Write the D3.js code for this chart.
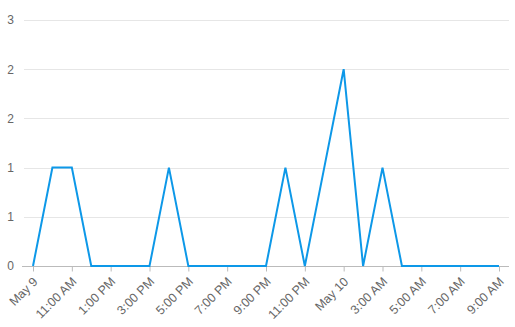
<!DOCTYPE html>
<html>
<head>
<meta charset="utf-8">
<script src="https://cdn.jsdelivr.net/npm/d3@7"></script>
<style>
  body { margin: 0; background: #fff; }
  svg { display: block; font-family: "Liberation Sans", Arial, sans-serif; }
  .grid line { stroke: #e6e6e6; }
  .tick text { fill: #666; font-size: 12px; }
  .x-os .tick text { font-size: 12.5px; }
</style>
</head>
<body>
<div id="okvir"></div>
<script>
// hourly counts, from 9:00 AM May 9 to 9:00 AM May 10
const pocetak = new Date(2023, 4, 9, 9)
const kraj = new Date(2023, 4, 10, 9)
const vrijednosti = [0, 1, 1, 0, 0, 0, 0, 1, 0, 0, 0, 0, 0, 1, 0, 1, 2, 0, 1, 0, 0, 0, 0, 0, 0]
const yTicks = [0, 0.5, 1, 1.5, 2, 2.5]

const sati = d3.timeHour.range(pocetak, d3.timeHour.offset(kraj, 1))
const dataset = sati.map((t, i) => ({ t, v: vrijednosti[i] }))

const dim = { sirina: 515, visina: 327 }
const plot = { left: 24, right: 509, top: 20, bottom: 266 }

const x = d3.scaleTime()
  .domain([pocetak, kraj])
  .range([33, 499])

const y = d3.scaleLinear()
  .domain([0, 2.5])
  .range([plot.bottom, plot.top])

const svg = d3.select("#okvir")
  .append("svg")
  .attr("width", dim.sirina)
  .attr("height", dim.visina)

// grid
svg.append("g")
  .attr("class", "grid")
  .selectAll("line")
  .data(yTicks.filter(d => d > 0))
  .enter().append("line")
    .attr("x1", plot.left)
    .attr("x2", plot.right)
    .attr("y1", d => Math.round(y(d)) + 0.5)
    .attr("y2", d => Math.round(y(d)) + 0.5)

// y axis (labels only)
const yAxis = d3.axisLeft(y)
  .tickValues(yTicks)
  .tickSize(0)
  .tickPadding(10)
  .tickFormat(d => Math.round(d))

const yG = svg.append("g")
  .attr("transform", `translate(${plot.left},0)`)
  .call(yAxis)
yG.select(".domain").remove()

// x axis - every 2 hours starting at 9 AM
const xTicks = sati.filter((d, i) => i % 2 === 0)
const fmtDan = d3.timeFormat("%b %-d")
const fmtSat = d3.timeFormat("%-I:%M %p")
const xAxis = d3.axisBottom(x)
  .tickValues(xTicks)
  .tickSize(5)
  .tickSizeOuter(0)
  .tickFormat((d, i) => (i === 0 || d.getHours() < 2) ? fmtDan(d) : fmtSat(d))

const xG = svg.append("g")
  .attr("class", "x-os")
  .attr("transform", `translate(0,${plot.bottom + 0.5})`)
  .call(xAxis)

xG.select(".domain").remove()
xG.append("line")
  .attr("x1", plot.left - 2)
  .attr("x2", plot.right)
  .attr("stroke", "#bbb")
xG.selectAll(".tick line").attr("stroke", "#bbb")
xG.selectAll(".tick text")
  .attr("text-anchor", "end")
  .attr("y", 0)
  .attr("dy", 0)
  .attr("transform", "translate(5,16) rotate(-45)")

// line
const linija = d3.line()
  .x(d => x(d.t))
  .y(d => y(d.v))

svg.append("path")
  .datum(dataset)
  .attr("fill", "none")
  .attr("stroke", "#0d98e8")
  .attr("stroke-width", 2)
  .attr("stroke-linejoin", "miter")
  .attr("d", linija)
</script>
</body>
</html>
